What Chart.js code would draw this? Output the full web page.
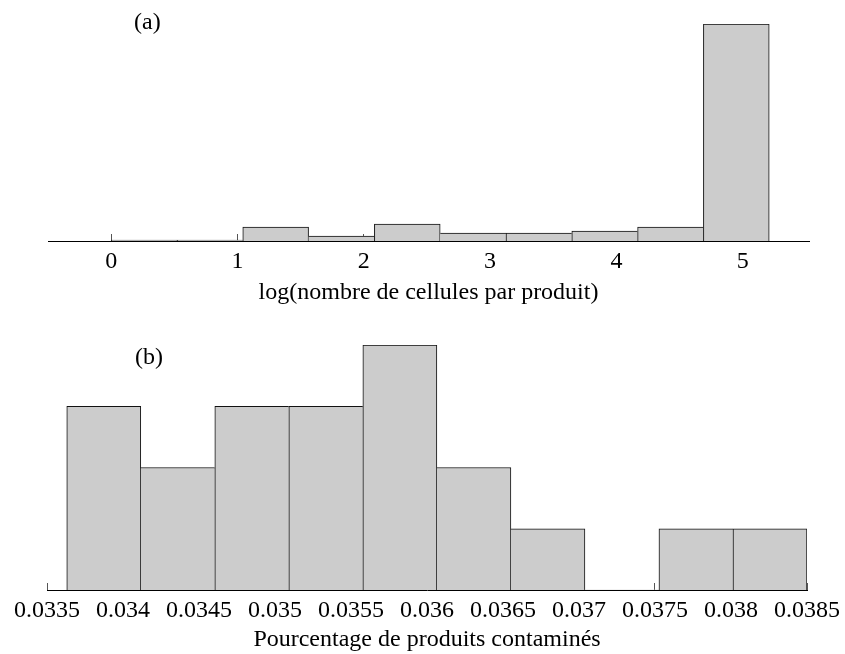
<!DOCTYPE html>
<html>
<head>
<meta charset="utf-8">
<script src="https://cdn.jsdelivr.net/npm/chart.js@4.4.0/dist/chart.umd.min.js"></script>
<style>
  body { margin: 0; background: #fff; width: 845px; height: 654px; position: relative; overflow: hidden; font-family: "Liberation Serif", serif; }
  .wrap { position: absolute; left: 0; width: 845px; }
  .tag { position: absolute; font-size: 24px; line-height: 24px; color: #000; }
</style>
</head>
<body>
<div class="wrap" style="top:0;height:320px"><canvas id="chartA" width="845" height="320"></canvas></div>
<div class="wrap" style="top:320px;height:334px"><canvas id="chartB" width="845" height="334"></canvas></div>
<div class="tag" style="left:134px;top:9px">(a)</div>
<div class="tag" style="left:135px;top:344px">(b)</div>

<script>
// (a) histogram of log(cells per product)
const binEdgesA = [0, 0.521, 1.042, 1.563, 2.084, 2.605, 3.126, 3.647, 4.168, 4.689, 5.21];
const countsA = [1, 1, 14, 5, 17, 8, 8, 10, 14, 217];
const tickValsA = [0, 1, 2, 3, 4, 5];
const tickLabelsA = ["0", "1", "2", "3", "4", "5"];
const titleA = "log(nombre de cellules par produit)";

// (b) histogram of contaminated product share
const binEdgesB = [0.03363, 0.034117, 0.034604, 0.035091, 0.035578, 0.036065, 0.036552, 0.037039, 0.037526, 0.038013, 0.0385];
const countsB = [3, 2, 3, 3, 4, 2, 1, 0, 1, 1];
const tickValsB = [0.0335, 0.034, 0.0345, 0.035, 0.0355, 0.036, 0.0365, 0.037, 0.0375, 0.038, 0.0385];
const tickLabelsB = ["0.0335", "0.034", "0.0345", "0.035", "0.0355", "0.036", "0.0365", "0.037", "0.0375", "0.038", "0.0385"];
const titleB = "Pourcentage de produits contaminés";

const serif = { family: "Liberation Serif", size: 24 };

function makeHist(id, edges, counts, tickVals, tickLabels, title, o) {
  const points = counts.map((c, i) => ({ x: (edges[i] + edges[i + 1]) / 2, y: c }));
  return new Chart(document.getElementById(id), {
    type: "bar",
    data: {
      datasets: [{
        data: points,
        backgroundColor: "#cccccc",
        borderColor: "#111",
        borderSkipped: false,
        // draw each shared edge once, on the taller side
        borderWidth: (ctx) => {
          const i = ctx.dataIndex;
          const v = counts[i];
          const prev = i > 0 ? counts[i - 1] : -1;
          const next = i < counts.length - 1 ? counts[i + 1] : -1;
          return { top: 1, bottom: 0, left: prev <= v ? 1 : 0, right: next < v ? 1 : 0 };
        },
        barPercentage: 1,
        categoryPercentage: 1
      }]
    },
    options: {
      responsive: false,
      animation: false,
      layout: { padding: o.pad },
      plugins: { legend: { display: false }, tooltip: { enabled: false } },
      scales: {
        x: {
          type: "linear",
          min: o.xmin,
          max: o.xmax,
          bounds: "data",
          offset: false,
          afterBuildTicks: (s) => { s.ticks = tickVals.map((v) => ({ value: v })); },
          afterFit: (s) => {
            s.height = o.axisH;
            // keep the plot edges where the layout padding puts them
            s.paddingLeft = 0;
            s.paddingRight = 0;
          },
          grid: { offset: false, drawOnChartArea: false, drawTicks: true, tickLength: -7, color: "#555", lineWidth: 1 },
          border: { display: true, color: "#000", width: 1, z: 1 },
          ticks: {
            autoSkip: false, maxRotation: 0, minRotation: 0, padding: 13,
            color: "#000", font: serif,
            callback: (v, i) => tickLabels[i]
          },
          title: { display: true, text: title, color: "#000", font: serif, padding: { top: 0, bottom: 0 } }
        },
        y: { display: false, min: 0, max: o.ymax }
      }
    }
  });
}

makeHist("chartA", binEdgesA, countsA, tickValsA, tickLabelsA, titleA, {
  xmin: -0.5, xmax: 5.525, ymax: 217, axisH: 66,
  pad: { left: 48, right: 36, top: 24, bottom: 13 }
});

makeHist("chartB", binEdgesB, countsB, tickValsB, tickLabelsB, titleB, {
  xmin: 0.0335, xmax: 0.0385, ymax: 4, axisH: 64,
  pad: { left: 47, right: 38, top: 25, bottom: 0 }
});
</script>
</body>
</html>
